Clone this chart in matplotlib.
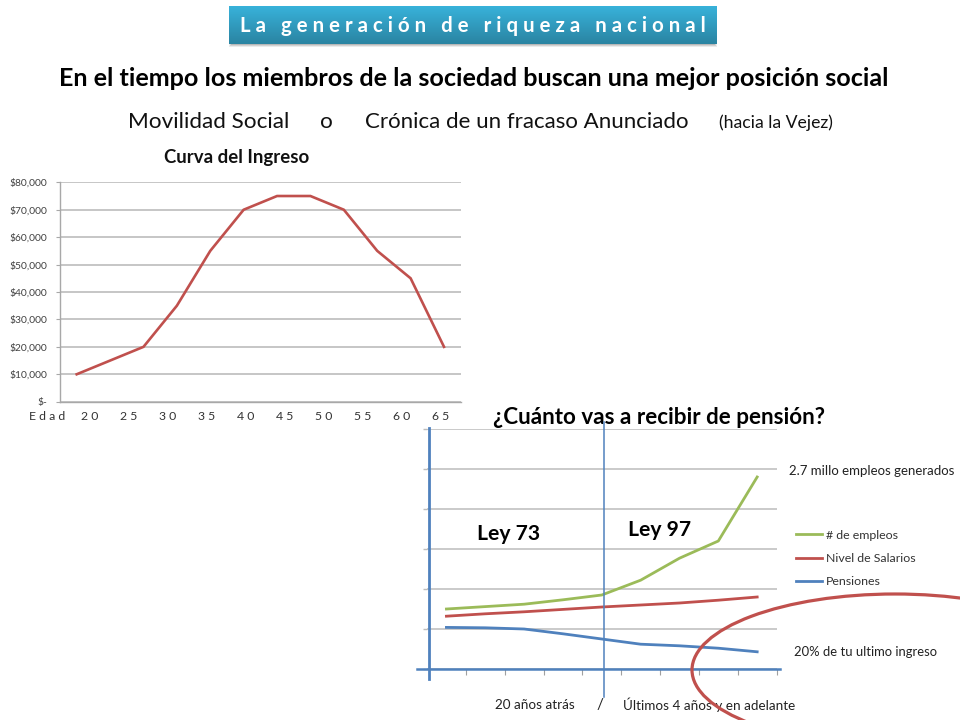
import numpy as np
import matplotlib
matplotlib.use("Agg")
import matplotlib.pyplot as plt
from matplotlib.patches import Ellipse, Rectangle

plt.rcParams['font.family'] = ['Lato', 'DejaVu Sans']

# ---- data ----
income_cats = list(range(12))
income_vals = [10000, 15000, 20000, 35000, 55000, 70000, 75000, 75000, 70000, 55000, 45000, 20000]
income_ticks = [0, 10000, 20000, 30000, 40000, 50000, 60000, 70000, 80000]
income_ticklabels = ['$-', '$10,000', '$20,000', '$30,000', '$40,000', '$50,000', '$60,000', '$70,000', '$80,000']
age_labels = ['E d a d', '2 0', '2 5', '3 0', '3 5', '4 0', '4 5', '5 0', '5 5', '6 0', '6 5']

pension_cats = list(range(9))
empleos = [1.50, 1.56, 1.62, 1.73, 1.85, 2.22, 2.77, 3.20, 4.80]
salarios = [1.32, 1.38, 1.43, 1.49, 1.55, 1.60, 1.65, 1.72, 1.80]
pensiones = [1.04, 1.03, 1.00, 0.88, 0.75, 0.62, 0.58, 0.52, 0.43]
series_names = ['# de empleos', 'Nivel de Salarios', 'Pensiones']

W, H = 960, 720
fig = plt.figure(figsize=(9.6, 7.2), dpi=100, facecolor='white')

def axes_px(x0, y0, x1, y1, **kw):
    return fig.add_axes([x0 / W, 1 - y1 / H, (x1 - x0) / W, (y1 - y0) / H], **kw)

# overlay in pixel coordinates for slide text
ov = axes_px(0, 0, W, H, zorder=5)
ov.set_xlim(0, W); ov.set_ylim(H, 0); ov.axis('off'); ov.patch.set_alpha(0)

# ---- header box ----
for i, a in enumerate([0.10, 0.14, 0.18]):
    ov.add_patch(Rectangle((229 + i, 44), 488 - 2 * i, 3 - i, fc='#404040', ec='none', alpha=a, zorder=1))
grad = np.linspace(0, 1, 64)[:, None, None] * (np.array([0x2a, 0x84, 0xa2]) - np.array([0x38, 0xb2, 0xda])) + np.array([0x38, 0xb2, 0xda])
ov.imshow(grad / 255, extent=(229, 717, 44, 6), aspect='auto', zorder=2)
ov.set_xlim(0, W); ov.set_ylim(H, 0)
ov.text(472.5, 26, 'L a   g e n e r a c i ó n   d e   r i q u e z a   n a c i o n a l', color='white',
        fontsize=14.7, fontweight='bold', ha='center', va='center', zorder=3)

# ---- headings ----
ov.text(474, 79, 'En el tiempo los miembros de la sociedad buscan una mejor posición social',
        fontsize=18.1, fontweight='bold', ha='center', va='center', color='black')
ov.text(209, 122, 'Movilidad Social', fontsize=16.2, ha='center', va='center', color='#111111')
ov.text(326, 122, 'o', fontsize=16.2, ha='center', va='center', color='#111111')
ov.text(527, 122, 'Crónica de un fracaso Anunciado', fontsize=16, ha='center', va='center', color='#111111')
ov.text(775.5, 123, '(hacia la Vejez)', fontsize=12.7, ha='center', va='center', color='#111111')

# ---- income chart ----
ax1 = axes_px(60, 182.3, 460.7, 401.7)
ax1.plot(income_cats, income_vals, color='#c0504d', lw=1.9, solid_joinstyle='miter', zorder=3)
ax1.set_xlim(-0.5, 11.5); ax1.set_ylim(0, 80000)
ax1.set_yticks(income_ticks, income_ticklabels)
ax1.set_xticks([])
ax1.grid(axis='y', color='#bcbcbc', lw=1.2)
ax1.set_axisbelow(True)
for s in ['top', 'right']:
    ax1.spines[s].set_visible(False)
for s in ['left', 'bottom']:
    ax1.spines[s].set_color('#a8a8a8'); ax1.spines[s].set_linewidth(1.0)
ax1.tick_params(axis='y', length=3, color='#a8a8a8', labelsize=7.4, labelcolor='#404040', pad=6)
ov.text(237, 157, 'Curva del Ingreso', fontsize=13.4, fontweight='bold', ha='center', va='center', color='#111111')
age_x0, age_step = 47.0, 39.0
for i, lab in enumerate(age_labels):
    ov.text(age_x0 + age_step * i + (0 if i == 0 else 4), 417, lab, fontsize=8.8, ha='center', va='center', color='#333333')

# ---- pension chart ----
ax2 = axes_px(427, 429, 776.6, 669)
ax2.plot(pension_cats, empleos, color='#9bbb59', lw=2.0, label=series_names[0], zorder=3)
ax2.plot(pension_cats, salarios, color='#c0504d', lw=2.0, label=series_names[1], zorder=3)
ax2.plot(pension_cats, pensiones, color='#4f81bd', lw=2.0, label=series_names[2], zorder=3)
ax2.set_xlim(-0.5, 8.5); ax2.set_ylim(0, 6)
ax2.set_yticks(range(7), [''] * 7)
ax2.set_xticks(np.arange(0.5, 8.6, 1), [''] * 9)
ax2.grid(axis='y', color='#bcbcbc', lw=1.1)
ax2.set_axisbelow(True)
ax2.patch.set_alpha(0)
for s in ax2.spines.values():
    s.set_visible(False)
ax2.tick_params(axis='x', length=4, color='#a0a0a0', width=0.8)
ax2.tick_params(axis='y', length=3, color='#bcbcbc', width=1.0)
leg = ax2.legend(loc='center left', bbox_to_anchor=(796 / W, 1 - 558.5 / H), bbox_transform=fig.transFigure,
                 frameon=False, fontsize=8.9, labelspacing=1.0, handlelength=2.1, handletextpad=0.3, borderpad=0, borderaxespad=0)
for t in leg.get_texts():
    t.set_color('#333333')

# blue axis lines and the divider
ov.plot([417, 780], [669, 669], color='#4f81bd', lw=1.8, zorder=4)
ov.plot([429, 429], [428, 679], color='#4f81bd', lw=2.0, zorder=4)
ov.plot([604, 604], [422, 697], color='#4f81bd', lw=1.1, zorder=4)

ov.text(659, 418, '¿Cuánto vas a recibir de pensión?', fontsize=16.1, fontweight='bold', ha='center', va='center', color='black')
ov.text(508.5, 534, 'Ley 73', fontsize=15.2, fontweight='bold', ha='center', va='center', color='black')
ov.text(659.5, 530, 'Ley 97', fontsize=15.2, fontweight='bold', ha='center', va='center', color='black')
ov.text(871.5, 471, '2.7 millo empleos generados', fontsize=9.5, ha='center', va='center', color='#222222')
ov.text(865.5, 652, '20% de tu ultimo ingreso', fontsize=9.4, ha='center', va='center', color='#222222')
ov.text(535, 705, '20 años atrás', fontsize=9.7, ha='center', va='center', color='#222222')
ov.text(600, 705, '/', fontsize=11, ha='center', va='center', color='#222222')
ov.text(709.5, 705, 'Últimos 4 años y en adelante', fontsize=9.7, ha='center', va='center', color='#222222')

# red hand-drawn ellipse
ov.add_patch(Ellipse((895, 670), 406, 152, fc='none', ec='#c0504d', lw=2.3, zorder=6))

fig.savefig('out.png', dpi=100)
